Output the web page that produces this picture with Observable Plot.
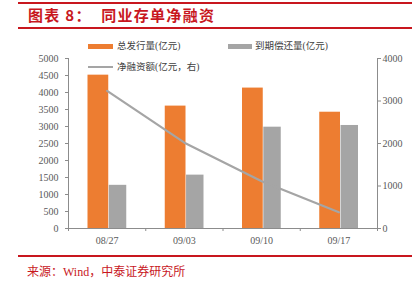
<!DOCTYPE html>
<html><head><meta charset="utf-8">
<script src="https://cdn.jsdelivr.net/npm/d3@7"></script>
<script src="https://cdn.jsdelivr.net/npm/@observablehq/plot@0.6"></script>
<style>
html,body{margin:0;padding:0;background:#fff;}
#wrap{position:relative;width:420px;height:287px;overflow:hidden;font-family:"Liberation Serif","Noto Sans CJK SC",serif;}
#title{position:relative;height:32px;}
#title .l1{position:absolute;left:18px;top:2px;width:394px;height:2px;background:#c8171e;}
#title .l2{position:absolute;left:18px;top:27px;width:394px;height:1.5px;background:#c8171e;}
#title .t{position:absolute;left:28px;top:5px;font-family:"Noto Sans CJK SC",sans-serif;font-weight:bold;font-size:15px;color:#c8171e;letter-spacing:1.3px;white-space:pre;line-height:20px;}
#chart{position:absolute;left:0;top:32px;}
#foot .l{position:absolute;left:18px;top:255px;width:394px;height:1.5px;background:#c8171e;}
#foot .t{position:absolute;left:27px;top:265px;font-size:12px;color:#c8171e;font-family:"Liberation Serif","Noto Sans CJK SC",serif;line-height:15px;white-space:nowrap;}
.lg{position:absolute;font-size:9.5px;color:#404040;line-height:12px;white-space:nowrap;font-family:"Liberation Serif","Noto Sans CJK SC",serif;}
.sw{position:absolute;}
</style></head>
<body>
<div id="wrap">
  <div id="title"><div class="l1"></div><div class="t">图表 8：  同业存单净融资</div><div class="l2"></div></div>
  <div id="chart"></div>
  <div class="sw" style="left:88px;top:44px;width:25px;height:4.5px;background:#ED7D31"></div>
  <div class="lg" style="left:117px;top:40px">总发行量(亿元)</div>
  <div class="sw" style="left:228px;top:44px;width:24px;height:4.5px;background:#A5A5A5"></div>
  <div class="lg" style="left:255px;top:40px">到期偿还量(亿元)</div>
  <div class="sw" style="left:88px;top:66px;width:25px;height:1.5px;background:#A5A5A5"></div>
  <div class="lg" style="left:117px;top:61px">净融资额(亿元，右)</div>
  <div id="foot"><div class="l"></div><div class="t">来源：Wind，中泰证券研究所</div></div>
</div>
<script>
const dates = ["08/27", "09/03", "09/10", "09/17"];
const issuance = [4510, 3600, 4130, 3420];
const maturity = [1270, 1570, 2980, 3030];
const netFinancing = [3240, 2020, 1110, 380];
const leftTicks = [0, 500, 1000, 1500, 2000, 2500, 3000, 3500, 4000, 4500, 5000];
const rightTicks = [0, 1000, 2000, 3000, 4000];
const leftMax = 5000, rightMax = 4000;
const k = leftMax / rightMax;

const idx = dates.map((d, i) => i);
const issRows = idx.map(i => ({i, v: issuance[i]}));
const matRows = idx.map(i => ({i, v: maturity[i]}));
const netRows = idx.map(i => ({i, v: netFinancing[i] * k}));
const bounds = [-0.5, ...idx.map(i => i + 0.5)];

const axisColor = "#8c8c8c";
const labelColor = "#595959";

const chart = Plot.plot({
  width: 420,
  height: 222,
  marginTop: 26,
  marginBottom: 26,
  marginLeft: 68,
  marginRight: 43,
  style: {fontFamily: "Liberation Serif, serif", fontSize: "10px", color: labelColor, background: "transparent"},
  x: {type: "linear", domain: [-0.5, dates.length - 0.5], axis: null},
  y: {domain: [0, leftMax], axis: null},
  marks: [
    Plot.rectY(issRows, {x1: d => d.i - 0.5, x2: d => d.i + 0.5, y1: 0, y2: "v", fill: "#ED7D31", insetLeft: 19.5, insetRight: 37}),
    Plot.rectY(matRows, {x1: d => d.i - 0.5, x2: d => d.i + 0.5, y1: 0, y2: "v", fill: "#A5A5A5", insetLeft: 40.8, insetRight: 19}),
    Plot.lineY(netRows, {x: "i", y: "v", stroke: "#A5A5A5", strokeWidth: 2.2}),
    Plot.ruleX([bounds[0]], {y1: 0, y2: leftMax, stroke: axisColor}),
    Plot.ruleX([bounds[bounds.length - 1]], {y1: 0, y2: leftMax, stroke: axisColor}),
    Plot.ruleY([0], {stroke: axisColor}),
    Plot.axisY({anchor: "left", ticks: leftTicks, tickSize: 3, tickPadding: 7, stroke: axisColor, fill: labelColor, tickFormat: d => String(d), label: null}),
    Plot.axisY({anchor: "right", ticks: rightTicks.map(t => t * k), tickSize: 3, tickPadding: 2, stroke: axisColor, fill: labelColor, tickFormat: d => String(Math.round(d / k)), label: null}),
    Plot.axisX({anchor: "bottom", ticks: bounds, tickSize: 3, stroke: axisColor, tickFormat: () => "", label: null}),
    Plot.axisX({anchor: "bottom", ticks: idx, tickSize: 0, tickPadding: 8, fill: labelColor, tickFormat: i => dates[i], label: null})
  ]
});
document.getElementById("chart").appendChild(chart);
</script>
</body></html>
